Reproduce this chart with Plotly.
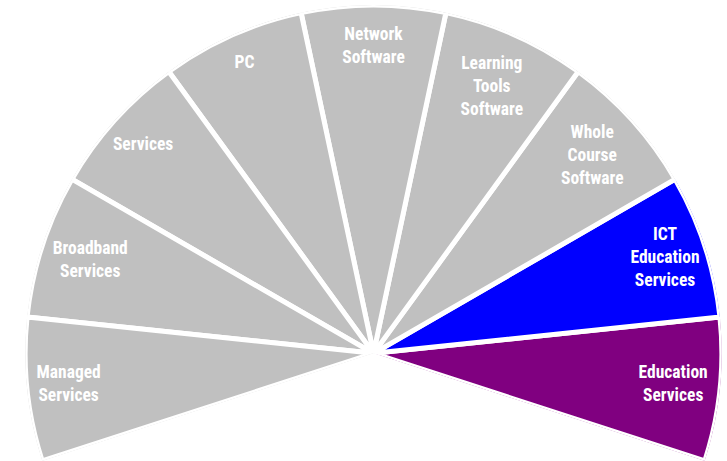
import plotly.graph_objects as go

categories = ["Education<br>Services", "ICT<br>Education<br>Services", "Whole<br>Course<br>Software",
              "Learning<br>Tools<br>Software", "Network<br>Software", "PC", "Services",
              "Broadband<br>Services", "Managed<br>Services"]
theta_centers = [-6, 18, 42, 66, 90, 114, 138, 162, 186]
values = [100, 100, 100, 100, 100, 100, 100, 100, 100]
colors = ["#800080", "#0000FF", "#C0C0C0", "#C0C0C0", "#C0C0C0", "#C0C0C0", "#C0C0C0", "#C0C0C0", "#C0C0C0"]
slice_width = 24
label_r = [86.5, 88, 84.5, 83.5, 88, 91, 89, 85.5, 88]

fig = go.Figure()
fig.add_trace(go.Barpolar(
    r=values, theta=theta_centers, width=[slice_width] * len(values),
    marker=dict(color=colors, line=dict(color="white", width=5)),
    hoverinfo="skip", showlegend=False,
))
fig.add_trace(go.Scatterpolar(
    r=label_r, theta=theta_centers, mode="text", text=["<b>%s</b>" % c for c in categories],
    textfont=dict(color="white", size=17.5, family="Roboto Condensed, DejaVu Sans Condensed, sans-serif"),
    hoverinfo="skip", showlegend=False,
))
fig.update_layout(
    width=727, height=461,
    margin=dict(l=0, r=0, t=0, b=0),
    paper_bgcolor="white",
    polar=dict(
        domain=dict(x=[20 / 727, 1], y=[0, 1 - 5 / 461]),
        sector=[-18, 198],
        bgcolor="white",
        radialaxis=dict(visible=False, range=[0, 100]),
        angularaxis=dict(visible=False),
        bargap=0,
    ),
)
fig.write_html("out.html")
